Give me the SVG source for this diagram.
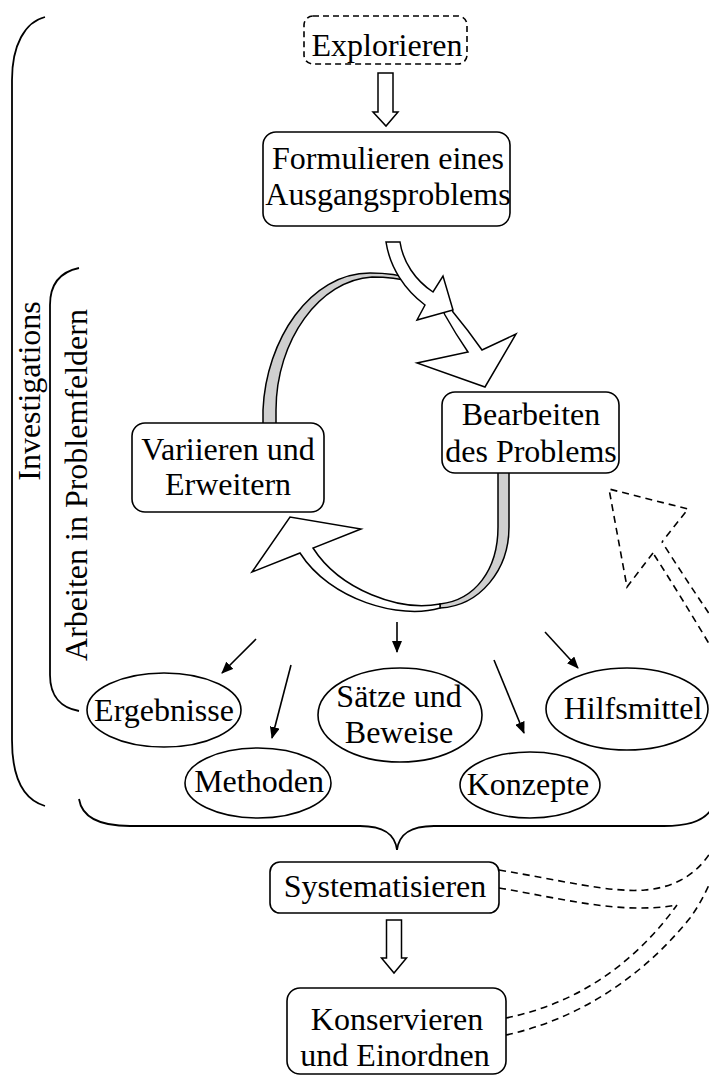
<svg xmlns="http://www.w3.org/2000/svg" width="709" height="1079" viewBox="0 0 709 1079">
<defs>
<style>
text{font-family:"Liberation Serif","Times New Roman",serif;font-size:32px;fill:#000;text-anchor:middle}
.box{fill:#fff;stroke:#000;stroke-width:1.6}
.dash{fill:none;stroke:#000;stroke-width:1.6;stroke-dasharray:7 5}
.line{fill:none;stroke:#000;stroke-width:1.6}
.brace{fill:none;stroke:#000;stroke-width:1.8}
.rib{fill:#fff;stroke:#000;stroke-width:1.5;stroke-linejoin:miter}
.grey{fill:#cfcfcf;stroke:#000;stroke-width:1.5}
</style>
<marker id="ah" viewBox="0 0 12 10" refX="11" refY="5" markerWidth="12" markerHeight="10" markerUnits="userSpaceOnUse" orient="auto">
<path d="M0,0 L12,5 L0,10 Z" fill="#000"/>
</marker>
</defs>

<g id="braces">
<path class="brace" d="M45,17 C25,22 12,45 12,80 L12,740 C12,780 25,800 45,806"/>
<path class="brace" d="M79,268 C60,272 50,285 50,305 L50,675 C50,697 62,708 79,711"/>
<path class="brace" d="M79,799 C82,818 100,826 130,826 L360,826 C385,826 395,835 397,850 C399,835 409,826 434,826 L664,826 C694,826 712,818 715,799"/>
</g>
<g id="labels">
<text transform="translate(40,391) rotate(-90)">Investigations</text>
<text transform="translate(87,485) rotate(-90)">Arbeiten in Problemfeldern</text>
</g>

<g id="connectors">
<polygon class="rib" points="378,73 393,73 393,112 398,112 386,126 373,112 378,112"/>
<polygon class="rib" points="386.5,920 401.5,920 401.5,958 406.5,958 394,973 381.5,958 386.5,958"/>
<!-- cycle arrow A (Variieren -> Bearbeiten) -->
<path class="grey" d="M263,445 L263,410 C266,340 310,273 370,273 C385,273 398,274 412,279 L412,282 C398,278 385,277 372,277 C320,280 276,340 276,410 L276,445 Z"/>
<path class="rib" d="M438,300 L445,315 Q455,333 468,352 L417,363 L485,387 L516,334 L482,350 Q468,330 453,312 L446,296 Z"/>
<!-- cycle arrow B (Bearbeiten -> Variieren) -->
<path class="grey" d="M498,465 L498,527 C498,570 475,600 440,604 L440,608 C480,606 509,570 509,527 L509,465 Z"/>
<path class="rib" d="M440,604 C400,612 340,590 313,548 L361,529 L290,517 L252,572 L300,553 C330,600 400,620 440,608 Z"/>
<!-- arrow from Formulieren -->
<path class="rib" d="M386,242 L400,242 C403,262 415,280 433,292 L443,276 L453,310 L417,320 L425,305 C405,290 390,268 386,242 Z"/>
<!-- small arrows to results -->
<line class="line" x1="256" y1="639" x2="222" y2="673" marker-end="url(#ah)"/>
<line class="line" x1="291" y1="665" x2="272" y2="738" marker-end="url(#ah)"/>
<line class="line" x1="397" y1="622" x2="397" y2="652" marker-end="url(#ah)"/>
<line class="line" x1="494" y1="660" x2="524" y2="733" marker-end="url(#ah)"/>
<line class="line" x1="545" y1="632" x2="578" y2="668" marker-end="url(#ah)"/>
<!-- dashed feedback arrow -->
<path class="dash" d="M653,553 L627,587 L609,489 L688,509 L662,542"/>
<path class="dash" d="M499,870 C560,880 610,893 645,890 C680,887 700,870 712,850 C745,790 740,700 708,642 Q680,595 653,553"/>
<path class="dash" d="M506,1035 C575,1020 640,980 690,918 C740,850 755,700 708,612 Q685,578 662,542"/>
<path class="dash" d="M499,888 C560,898 620,915 677,905"/>
<path class="dash" d="M506,1018 C570,1005 630,970 677,905"/>
</g>

<g id="explorieren">
<rect class="box" x="304" y="16" width="163" height="48" rx="9" style="stroke-dasharray:6 4"/>
<text x="387" y="56">Explorieren</text>
</g>
<g id="formulieren">
<rect class="box" x="263" y="132" width="247" height="94" rx="13"/>
<text x="388" y="169">Formulieren eines</text>
<text x="388" y="205">Ausgangsproblems</text>
</g>
<g id="bearbeiten">
<rect class="box" x="442" y="392" width="177" height="81" rx="13"/>
<text x="531" y="425">Bearbeiten</text>
<text x="531" y="462">des Problems</text>
</g>
<g id="variieren">
<rect class="box" x="132" y="423" width="192" height="89" rx="13"/>
<text x="228" y="460">Variieren und</text>
<text x="228" y="495">Erweitern</text>
</g>
<g id="ergebnisse">
<ellipse class="box" cx="164" cy="710" rx="77" ry="37"/>
<text x="164" y="721">Ergebnisse</text>
</g>
<g id="methoden">
<ellipse class="box" cx="258" cy="783" rx="73" ry="35"/>
<text x="259" y="792">Methoden</text>
</g>
<g id="saetze">
<ellipse class="box" cx="400" cy="715" rx="82" ry="47"/>
<text x="399" y="707">Sätze und</text>
<text x="399" y="743">Beweise</text>
</g>
<g id="konzepte">
<ellipse class="box" cx="530" cy="785" rx="70" ry="33"/>
<text x="528" y="795">Konzepte</text>
</g>
<g id="hilfsmittel">
<ellipse class="box" cx="627" cy="709" rx="81" ry="41"/>
<text x="633" y="719">Hilfsmittel</text>
</g>
<g id="systematisieren">
<rect class="box" x="270" y="862" width="229" height="51" rx="10"/>
<text x="385" y="897">Systematisieren</text>
</g>
<g id="konservieren">
<rect class="box" x="287" y="988" width="219" height="86" rx="13"/>
<text x="397" y="1030">Konservieren</text>
<text x="395" y="1066">und Einordnen</text>
</g>
</svg>
